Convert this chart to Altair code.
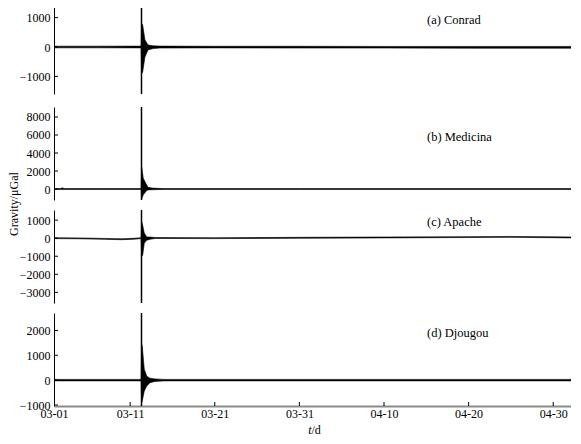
import altair as alt
import pandas as pd

FONT = "Liberation Serif"

# x axis: days (first tick sits at the start of the axis)
X_DOMAIN = [1.0, 62.1]
X_TICKS = [1, 10, 20, 30, 40, 50, 60]
X_LABELS = ["03-01", "03-11", "03-21", "03-31", "04-10", "04-20", "04-30"]
T_QUAKE = 11.34

STATIONS = ["(a) Conrad", "(b) Medicina", "(c) Apache", "(d) Djougou"]

# Envelope (upper / lower) of each gravity record, μGal
A_T = [1.0, 6.0, 11.30, 11.36, 11.48, 11.75, 12.11, 12.70, 13.53, 20.0, 30.0, 40.0, 50.0, 62.1]
A_HI = [28, 28, 30, 800, 745, 240, 70, 40, 30, 25, 25, 20, 20, 20]
A_LO = [-28, -28, -30, -900, -850, -340, -100, -55, -35, -30, -35, -35, -40, -40]
A_SPIKE = [-1700, 1700]
A_DOMAIN = [-1600, 1600]
A_YTICKS = [-1000, 0, 1000]

B_T = [1.0, 1.8, 1.95, 2.2, 6.0, 11.30, 11.36, 11.55, 11.84, 12.0, 12.11, 12.6, 14.0, 30.0, 62.1]
B_HI = [45, 45, 150, 45, 45, 45, 2440, 1200, 650, 380, 200, 100, 45, 45, 45]
B_LO = [-45, -45, -40, -45, -45, -45, -1100, -650, -300, -150, -100, -80, -45, -45, -45]
B_SPIKE = [-1300, 9300]
B_DOMAIN = [-1220, 9110]
B_YTICKS = [0, 2000, 4000, 6000, 8000]

C_T = [1.0, 4.0, 7.0, 9.0, 10.5, 11.30, 11.36, 11.48, 11.67, 11.96, 12.35, 13.0, 20.0, 30.0, 40.0, 50.0, 55.0, 60.0, 62.1]
C_HI = [25, 15, -15, -35, -5, 25, 900, 720, 280, 70, 60, 35, 25, 45, 65, 85, 95, 75, 65]
C_LO = [-25, -35, -65, -85, -55, -25, -1000, -940, -280, -110, -60, -15, -25, -5, 15, 35, 45, 25, 15]
C_SPIKE = [-3700, 1700]
C_DOMAIN = [-3590, 1560]
C_YTICKS = [-3000, -2000, -1000, 0, 1000]

D_T = [1.0, 6.0, 11.30, 11.36, 11.43, 11.67, 11.96, 12.35, 12.94, 14.0, 30.0, 62.1]
D_HI = [30, 30, 30, 1440, 1360, 440, 160, 80, 50, 30, 30, 30]
D_LO = [-30, -30, -30, -900, -840, -440, -240, -100, -50, -30, -30, -30]
D_SPIKE = [-1100, 2800]
D_DOMAIN = [-1040, 2700]
D_YTICKS = [-1000, 0, 1000, 2000]

Y_TITLE = "Gravity/μGal"
PANEL_W = 517


def panel(name, t, hi, lo, spike, domain, yticks, height, label_y, bottom=False, extra=()):
    if bottom:
        label_expr = (
            "[" + ",".join(f"'{s}'" for s in X_LABELS) + "][indexof(["
            + ",".join(str(v) for v in X_TICKS) + "], datum.value)]"
        )
        x_axis = alt.Axis(values=X_TICKS, labelExpr=label_expr, title=None,
                          domainColor="#8a8a8a", domainWidth=2, labelPadding=2,
                          labelFlush=False, labelOverlap=False, ticks=False, grid=False)
    else:
        x_axis = None
    x_enc = alt.X("t:Q", scale=alt.Scale(domain=X_DOMAIN, nice=False, zero=False), axis=x_axis)
    y_enc = alt.Y("lo:Q", scale=alt.Scale(domain=domain, nice=False, zero=False),
                  axis=alt.Axis(values=yticks, title=None, format="d", ticks=False, grid=False,
                                labelPadding=4))

    band = alt.Chart(pd.DataFrame({"t": t, "hi": hi, "lo": lo})).mark_area(
        color="black", stroke="black", strokeWidth=0.6, clip=True
    ).encode(x=x_enc, y=y_enc, y2="hi:Q")

    spike_rule = alt.Chart(pd.DataFrame({"t": [T_QUAKE], "lo": [spike[0]], "hi": [spike[1]]})).mark_rule(
        color="black", strokeWidth=1.5, clip=True
    ).encode(x=x_enc, y=y_enc, y2="hi:Q")

    ytick_rules = alt.Chart(pd.DataFrame({"lo": yticks})).mark_rule(
        color="black", strokeWidth=1
    ).encode(y=y_enc, x=alt.value(0), x2=alt.value(4))

    label = alt.Chart(pd.DataFrame({"s": [name]})).mark_text(
        align="left", baseline="middle", font=FONT, fontSize=12.5, color="black"
    ).encode(text="s:N", x=alt.value(373), y=alt.value(label_y))

    layers = [band, spike_rule, ytick_rules, label]

    if bottom:
        xt = alt.Chart(pd.DataFrame({"t": X_TICKS[1:]})).mark_rule(
            color="black", strokeWidth=1
        ).encode(x=x_enc, y=alt.value(height), y2=alt.value(height - 4))
        layers.append(xt)

    layers.extend(extra)
    return alt.layer(*layers).properties(width=PANEL_W, height=height)


ytitle = alt.Chart(pd.DataFrame({"s": [Y_TITLE]})).mark_text(
    angle=270, align="center", baseline="middle", font=FONT, fontSize=12, color="black"
).encode(text="s:N", x=alt.value(-40), y=alt.value(97))

xtitle_t = alt.Chart(pd.DataFrame({"s": ["t"]})).mark_text(
    align="right", baseline="middle", font=FONT, fontSize=12, fontStyle="italic", color="black"
).encode(text="s:N", x=alt.value(257.5), y=alt.value(117))
xtitle_d = alt.Chart(pd.DataFrame({"s": ["/d"]})).mark_text(
    align="left", baseline="middle", font=FONT, fontSize=12, color="black"
).encode(text="s:N", x=alt.value(257.5), y=alt.value(117))

pa = panel(STATIONS[0], A_T, A_HI, A_LO, A_SPIKE, A_DOMAIN, A_YTICKS, 94, 20)
pb = panel(STATIONS[1], B_T, B_HI, B_LO, B_SPIKE, B_DOMAIN, B_YTICKS, 93, 30, extra=[ytitle])
pc = panel(STATIONS[2], C_T, C_HI, C_LO, C_SPIKE, C_DOMAIN, C_YTICKS, 93, 12)
pd_ = panel(STATIONS[3], D_T, D_HI, D_LO, D_SPIKE, D_DOMAIN, D_YTICKS, 93, 20, bottom=True,
            extra=[xtitle_t, xtitle_d])

chart = alt.vconcat(
    pa, alt.vconcat(pb, pc, pd_, spacing=10, bounds="flush"), spacing=13, bounds="flush"
).properties(
    padding={"left": 0, "top": -8, "right": 0, "bottom": 0},
    background="white",
).configure_view(
    stroke=None
).configure_axis(
    labelFont=FONT, labelFontSize=12, labelColor="black",
    domainColor="black", domainWidth=1, ticks=False, grid=False, labelPadding=4
)

chart.save("out.html", embed_options={"renderer": "svg", "actions": False})
